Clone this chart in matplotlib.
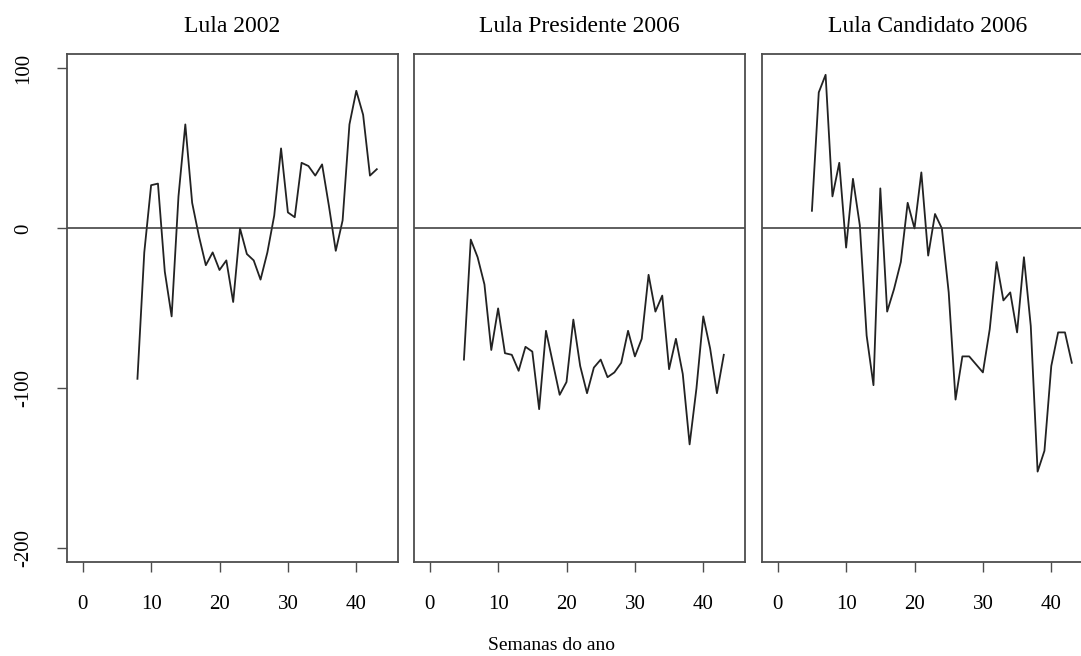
"""
Three-panel weekly series (Lula 2002 / Presidente 2006 / Candidato 2006),
R-style base graphics look.
"""

import numpy as np
import matplotlib
matplotlib.use('Agg')
import matplotlib.pyplot as plt

plt.rcParams['font.family'] = ['Liberation Serif', 'DejaVu Serif']

# ── Data ──────────────────────────────────────────────────────────────────────
titles = ['Lula 2002', 'Lula Presidente 2006', 'Lula Candidato 2006']

weeks_2002 = list(range(8, 44))
lula_2002 = [-94, -15, 27, 28, -27, -55, 20, 65, 16, -5, -23, -15, -26, -20,
             -46, 0, -16, -20, -32, -15, 8, 50, 10, 7, 41, 39, 33, 40, 14,
             -14, 5, 65, 86, 71, 33, 37]

weeks_pres = list(range(5, 44))
lula_pres = [-82, -7, -18, -35, -76, -50, -78, -79, -89, -74, -77, -113, -64,
             -84, -104, -96, -57, -86, -103, -87, -82, -93, -90, -84, -64,
             -80, -69, -29, -52, -42, -88, -69, -91, -135, -100, -55, -75,
             -103, -79]

weeks_cand = list(range(5, 44))
lula_cand = [11, 85, 96, 20, 41, -12, 31, 2, -67, -98, 25, -52, -38, -21, 16,
             0, 35, -17, 9, 0, -40, -107, -80, -80, -85, -90, -63, -21, -45,
             -40, -65, -18, -61, -152, -139, -86, -65, -65, -84]

series = [(weeks_2002, lula_2002), (weeks_pres, lula_pres), (weeks_cand, lula_cand)]

xticks = [0, 10, 20, 30, 40]
yticks = [100, 0, -100, -200]

# ── Plot ──────────────────────────────────────────────────────────────────────
W, H = 1081, 656
fig = plt.figure(figsize=(W / 100, H / 100), dpi=100)

lefts = [67, 414, 762]
pw, top, bot = 331, 54, 562
frame_col = '#4d4d4d'

for i, (left, (x, y), title) in enumerate(zip(lefts, series, titles)):
    ax = fig.add_axes([left / W, 1 - bot / H, pw / W, (bot - top) / H])
    ax.plot(x, y, color='#222222', lw=1.3)
    ax.axhline(0, color='#333333', lw=1.1)
    ax.set_xlim(-2.3, 46.1)
    ax.set_ylim(-208.5, 109)
    for s in ax.spines.values():
        s.set_color(frame_col)
        s.set_linewidth(1.3)
    ax.set_xticks(xticks)
    ax.tick_params(axis='x', length=7, width=1.0, color=frame_col,
                   pad=17, labelsize=15)
    if i == 0:
        ax.set_yticks(yticks)
        ax.set_yticklabels([str(t) for t in yticks], rotation=90, va='center')
        ax.tick_params(axis='y', length=7, width=1.0, color=frame_col,
                       pad=17, labelsize=15)
    else:
        ax.set_yticks([])
    fig.text((left + pw / 2) / W, 1 - 27 / H, title, ha='center', va='center',
             fontsize=17)

fig.text(552 / W, 1 - 646 / H, 'Semanas do ano', ha='center', va='center',
         fontsize=14)

fig.savefig('out.png', dpi=100)
